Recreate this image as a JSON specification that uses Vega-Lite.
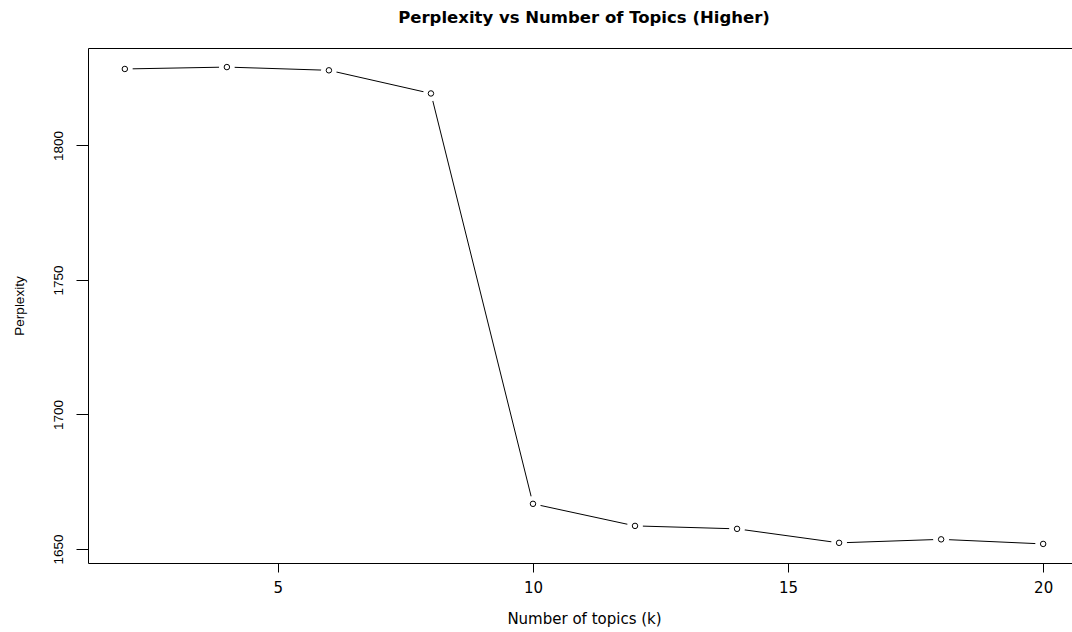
{
  "$schema": "https://vega.github.io/schema/vega-lite/v6.json",
  "autosize": {"type": "none"},
  "width": 992,
  "height": 515,
  "padding": {"left": 88, "top": 48, "right": 0, "bottom": 69},
  "background": "white",
  "title": {
    "text": "Perplexity vs Number of Topics (Higher)",
    "font": "DejaVu Sans",
    "fontSize": 16.5,
    "fontWeight": "bold",
    "color": "black",
    "offset": 22,
    "anchor": "middle"
  },
  "config": {
    "view": {"stroke": "black", "strokeWidth": 1},
    "axis": {
      "grid": false,
      "domain": false,
      "tickColor": "black",
      "labelColor": "black",
      "titleColor": "black",
      "titleFontWeight": "normal"
    }
  },
  "data": {
    "values": [
      {"k": 2, "perplexity": 1828.4},
      {"k": 4, "perplexity": 1829.1},
      {"k": 6, "perplexity": 1827.9},
      {"k": 8, "perplexity": 1819.3},
      {"k": 10, "perplexity": 1666.8},
      {"k": 12, "perplexity": 1658.6},
      {"k": 14, "perplexity": 1657.5},
      {"k": 16, "perplexity": 1652.3},
      {"k": 18, "perplexity": 1653.6},
      {"k": 20, "perplexity": 1651.9}
    ]
  },
  "encoding": {
    "x": {
      "field": "k",
      "type": "quantitative",
      "scale": {"domain": [1.278, 20.722], "nice": false, "zero": false},
      "axis": {
        "values": [5, 10, 15, 20],
        "title": "Number of topics (k)",
        "tickSize": 9,
        "labelFont": "DejaVu Sans",
        "labelFontSize": 15,
        "labelPadding": 8,
        "titleFont": "DejaVu Sans",
        "titleFontSize": 15,
        "titlePadding": 16
      }
    },
    "y": {
      "field": "perplexity",
      "type": "quantitative",
      "scale": {"domain": [1644.81, 1836.19], "nice": false, "zero": false},
      "axis": {
        "values": [1650, 1700, 1750, 1800],
        "format": "d",
        "title": "Perplexity",
        "tickSize": 12,
        "labelFont": "Liberation Sans",
        "labelFontSize": 13.5,
        "labelAngle": -90,
        "labelAlign": "center",
        "labelBaseline": "alphabetic",
        "labelPadding": 14,
        "titleFont": "Liberation Sans",
        "titleFontSize": 13.5,
        "titlePadding": 25
      }
    }
  },
  "layer": [
    {"mark": {"type": "line", "color": "black", "strokeWidth": 1}},
    {"mark": {"type": "point", "shape": "circle", "filled": true, "color": "white", "opacity": 1, "size": 250}},
    {"mark": {"type": "point", "shape": "circle", "filled": false, "color": "black", "opacity": 1, "strokeWidth": 1, "size": 30}}
  ]
}
